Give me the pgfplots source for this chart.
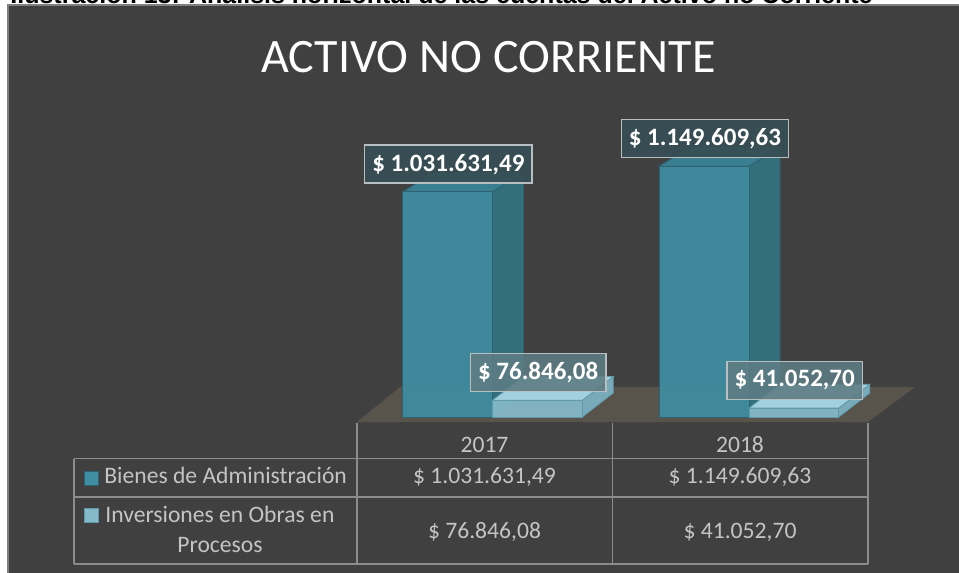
\documentclass[border=0pt]{standalone}
\usepackage{pgfplots}
\pgfplotsset{compat=1.18}
\usepackage{fontspec}
\setmainfont{Carlito}
\newfontfamily\capfont{Liberation Sans}
\definecolor{chartbg}{HTML}{404040}
\definecolor{chartborder}{HTML}{7F7F7F}
\definecolor{floorc}{HTML}{58534B}
\definecolor{bienF}{HTML}{3F8EA2}
\definecolor{bienS}{HTML}{336E7D}
\definecolor{bienT}{HTML}{3A7F91}
\definecolor{bienE}{HTML}{2C6271}
\definecolor{invF}{HTML}{86BACA}
\definecolor{invS}{HTML}{79AAB9}
\definecolor{invT}{HTML}{A3D0DD}
\definecolor{invE}{HTML}{5E9AAC}
\definecolor{lab1}{HTML}{374E55}
\definecolor{lab2}{HTML}{5E7C84}
\definecolor{labborder}{HTML}{B9BFC1}
\definecolor{tabline}{HTML}{8C8C8C}
\definecolor{tabtext}{HTML}{C4C4C4}
\begin{document}
\begin{tikzpicture}
\useasboundingbox (0pt,-286.5pt) rectangle (479.5pt,0pt);
\begin{scope}[x=0.5pt,y=-0.5pt]
\fill[white] (0,0) rectangle (959,573);
\begin{scope}
\clip (0,-2) rectangle (959,4.6);
\node[anchor=base west, inner sep=0pt, font=\capfont\bfseries\fontsize{12.5}{12.5}\selectfont] at (10,3.2) {Ilustración 13: Análisis horizontal de las cuentas del Activo no Corriente};
\end{scope}
\fill[chartbg] (8,5) rectangle (980,590);
\draw[chartborder, line width=0.8pt] (8,590) -- (8,5) -- (980,5);
\node[anchor=base, text=white, inner sep=0pt, font=\fontsize{24}{24}\selectfont] at (488.5,72) {ACTIVO NO CORRIENTE};
\end{scope}
\begin{axis}[at={(0pt,-286.5pt)}, anchor=south west, scale only axis,
  width=479.5pt, height=286.5pt,
  xmin=-1.92008, xmax=1.81871, ymin=-714948, ymax=1911111,
  hide axis, clip=false]
% floor
\addplot[fill=floorc, draw=none] coordinates {(-0.5283,-22915) (1.4639,-22915) (1.6472,137490) (-0.3606,137490)} -- cycle;
% Bienes 2017
\addplot[fill=bienS, draw=bienE, line width=0.4pt] coordinates {(0,0) (0.121,110000) (0.121,1121031.49) (0,1031631.49)} -- cycle;
\addplot[fill=bienT, draw=bienE, line width=0.4pt] coordinates {(-0.35,1031631.49) (0,1031631.49) (0.121,1121031.49) (-0.229,1121031.49)} -- cycle;
\addplot[fill=bienF, fill opacity=0.92, draw=bienE, line width=0.4pt] coordinates {(-0.35,0) (0,0) (0,1031631.49) (-0.35,1031631.49)} -- cycle;
% Inversiones 2017
\addplot[fill=invS, draw=invE, line width=0.4pt] coordinates {(0.35,0) (0.471,110000) (0.471,185446.08) (0.35,76846.08)} -- cycle;
\addplot[fill=invT, draw=invE, line width=0.4pt] coordinates {(0,76846.08) (0.35,76846.08) (0.471,185446.08) (0.121,185446.08)} -- cycle;
\addplot[fill=invF, fill opacity=0.92, draw=invE, line width=0.4pt] coordinates {(0,0) (0.35,0) (0.35,76846.08) (0,76846.08)} -- cycle;
% Bienes 2018
\addplot[fill=bienS, draw=bienE, line width=0.4pt] coordinates {(1,0) (1.121,110000) (1.121,1236609.63) (1,1149609.63)} -- cycle;
\addplot[fill=bienT, draw=bienE, line width=0.4pt] coordinates {(0.65,1149609.63) (1,1149609.63) (1.121,1236609.63) (0.771,1236609.63)} -- cycle;
\addplot[fill=bienF, fill opacity=0.92, draw=bienE, line width=0.4pt] coordinates {(0.65,0) (1,0) (1,1149609.63) (0.65,1149609.63)} -- cycle;
% Inversiones 2018
\addplot[fill=invS, draw=invE, line width=0.4pt] coordinates {(1.35,0) (1.471,110000) (1.471,150052.70) (1.35,41052.70)} -- cycle;
\addplot[fill=invT, draw=invE, line width=0.4pt] coordinates {(1,41052.70) (1.35,41052.70) (1.471,150052.70) (1.121,150052.70)} -- cycle;
\addplot[fill=invF, fill opacity=0.92, draw=invE, line width=0.4pt] coordinates {(1,0) (1.35,0) (1.35,41052.70) (1,41052.70)} -- cycle;
% data labels
\addplot[draw=none, mark=none, point meta=explicit symbolic, nodes near coords,
  every node near coord/.append style={anchor=center, yshift=13.85pt, fill=lab1, fill opacity=0.92, text opacity=1, draw=labborder, line width=0.7pt, text=white, font=\bfseries\fontsize{12.5}{12.5}\selectfont, inner xsep=3.8pt, inner ysep=0pt, minimum height=19pt}]
  coordinates {(-0.172,1031631.49) [\$ 1.031.631,49] (0.828,1149609.63) [\$ 1.149.609,63]};
\addplot[draw=none, mark=none, point meta=explicit symbolic, nodes near coords,
  every node near coord/.append style={anchor=center, yshift=13.85pt, fill=lab2, fill opacity=0.88, text opacity=1, draw=labborder, line width=0.7pt, text=white, font=\bfseries\fontsize{12.5}{12.5}\selectfont, inner xsep=3.8pt, inner ysep=0pt, minimum height=19pt}]
  coordinates {(0.178,76846.08) [\$ 76.846,08] (1.178,41052.70) [\$ 41.052,70]};
\end{axis}
\begin{scope}[x=0.5pt,y=-0.5pt]
\tikzset{tt/.style={text=tabtext, inner sep=0pt, font=\fontsize{11.8}{14}\selectfont}}
\draw[tabline, line width=0.8pt] (357,423) -- (357,564) (612.5,423) -- (612.5,564) (868,423) -- (868,564)
  (74,458.5) -- (868,458.5) (74,497) -- (868,497) (74,564) -- (868,564) (74,458.5) -- (74,564);
\node[tt, anchor=base] at (484.5,452) {2017};
\node[tt, anchor=base] at (740,452) {2018};
\node[tt, anchor=base west] at (104,483) {Bienes de Administración};
\node[tt, anchor=base] at (484.5,483) {\$ 1.031.631,49};
\node[tt, anchor=base] at (740,483) {\$ 1.149.609,63};
\node[tt, anchor=base west] at (105,522) {Inversiones en Obras en};
\node[tt, anchor=base] at (220,552) {Procesos};
\node[tt, anchor=base] at (484.5,538) {\$ 76.846,08};
\node[tt, anchor=base] at (740,538) {\$ 41.052,70};
\filldraw[fill=bienF, draw=bienE, line width=0.5pt] (84,471) rectangle (98,485);
\filldraw[fill=invF, draw=invE, line width=0.5pt] (84,508) rectangle (98,522);
\end{scope}
\end{tikzpicture}
\end{document}
